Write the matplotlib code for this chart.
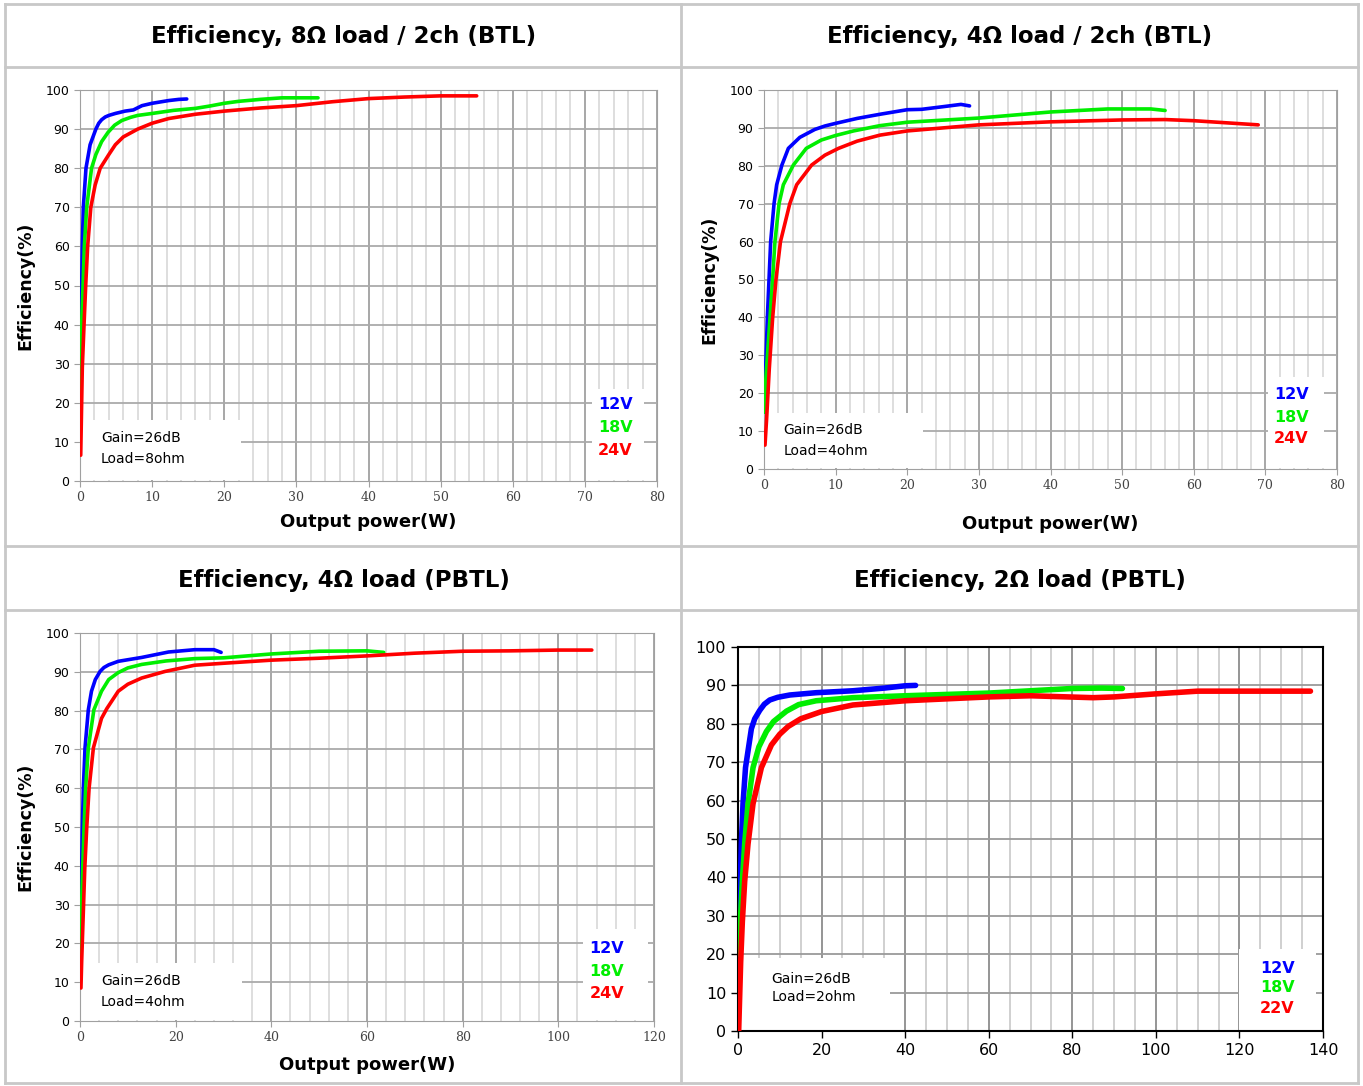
import matplotlib.pyplot as plt
from matplotlib.lines import Line2D
from matplotlib.patches import Rectangle
from matplotlib.ticker import MultipleLocator

# ---- data ----
titles = ["Efficiency, 8Ω load / 2ch (BTL)", "Efficiency, 4Ω load / 2ch (BTL)",
          "Efficiency, 4Ω load (PBTL)", "Efficiency, 2Ω load (PBTL)"]
loads = ["Load=8ohm", "Load=4ohm", "Load=4ohm", "Load=2ohm"]
volt_labels = [["12V", "18V", "24V"], ["12V", "18V", "24V"],
               ["12V", "18V", "24V"], ["12V", "18V", "22V"]]
xmax = [80, 80, 120, 140]

# panel 1: 8 ohm / 2ch
p1_12_x = [0.12, 0.23, 0.32, 0.46, 0.83, 1.4, 2.2, 2.6, 3.0, 3.5, 4.0, 4.9, 6.25, 7.4, 8.6, 10, 12.3, 13.7, 14.8]
p1_12_y = [30, 50, 60, 70, 80, 86, 90, 91.5, 92.4, 93.1, 93.5, 94.0, 94.6, 94.9, 96.0, 96.6, 97.3, 97.6, 97.7]
p1_18_x = [0.1, 0.14, 0.23, 0.42, 0.6, 0.93, 1.6, 2.2, 3.0, 3.9, 4.8, 5.8, 7, 8, 10, 13, 16, 18, 20, 22, 25, 28, 33]
p1_18_y = [20, 29, 40, 50, 60, 70, 80, 83.5, 86.8, 89.2, 91, 92.2, 93, 93.5, 94, 94.8, 95.3, 95.9, 96.6, 97.1,
           97.6, 98, 98]
p1_24_x = [0.1, 0.23, 0.32, 0.56, 0.79, 1.06, 1.5, 2.1, 2.8, 4.0, 4.9, 6, 8, 10, 12.3, 16, 20, 25,
           30, 35, 40, 45, 50, 55]
p1_24_y = [6.6, 20, 29, 40, 50, 60, 70, 75.7, 80, 83.5, 86, 88, 90, 91.5, 92.7, 93.8, 94.6, 95.4,
           96, 97, 97.8, 98.2, 98.5, 98.5]

# panel 2: 4 ohm / 2ch
p2_12_x = [0.1, 0.23, 0.47, 0.7, 0.93, 1.4, 1.77, 2.5, 3.4, 5, 7.1, 8.5, 10, 13, 16.2, 20, 22, 25, 27.5, 28.7]
p2_12_y = [15, 26.5, 40, 50, 60, 70, 75, 80.2, 84.6, 87.5, 89.6, 90.5, 91.2, 92.5, 93.6, 94.8, 94.9, 95.6,
           96.2, 95.8]
p2_18_x = [0.05, 0.19, 0.84, 1.2, 1.53, 2.1, 2.7, 4.1, 5.9, 8, 10, 12.5, 16.2, 20, 30, 40, 48, 54, 56]
p2_18_y = [15, 22, 40, 50, 60, 70, 75, 80.2, 84.6, 86.8, 88, 89.2, 90.6, 91.5, 92.6, 94.2, 95, 95, 94.6]
p2_24_x = [0.14, 0.37, 0.74, 1.2, 1.67, 2.3, 3.6, 4.56, 6.65, 8.5, 10.4, 13, 16.2, 20, 30, 40, 50, 56, 60, 69]
p2_24_y = [6.3, 13.4, 26.5, 39.7, 50, 60, 70, 75, 80.2, 82.8, 84.6, 86.5, 88.1, 89.2, 90.8, 91.6, 92.1,
           92.2, 91.9, 90.8]

# panel 3: 4 ohm PBTL
p3_12_x = [0.1, 0.35, 0.49, 0.7, 1.05, 1.74, 2.4, 3.2, 4.2, 5, 6, 8, 12.9, 18.5, 24, 28, 29.5]
p3_12_y = [20, 39.4, 49.7, 60, 70.4, 80.2, 85, 88, 90.1, 91.1, 91.8, 92.7, 93.7, 95.1, 95.7, 95.7, 95]
p3_18_x = [0.1, 0.2, 0.56, 0.84, 1.18, 1.74, 2.9, 4.5, 6, 8, 10, 12.9, 18, 24, 30, 40, 50, 60, 63.5]
p3_18_y = [15, 24, 39.4, 49.7, 60, 70.4, 80.2, 85, 88, 89.8, 91, 91.9, 92.8, 93.4, 93.6, 94.6, 95.3, 95.4, 95]
p3_24_x = [0.2, 0.35, 0.7, 1.0, 1.4, 1.9, 2.8, 4.5, 5.6, 8, 10, 12.9, 17.8, 24, 30, 40, 50, 60, 70,
           80, 90, 100, 107]
p3_24_y = [8.5, 15.4, 28.3, 39.4, 49.7, 60, 70.4, 78, 80.5, 85, 86.8, 88.4, 90.1, 91.7, 92.2, 93, 93.5,
           94.1, 94.8, 95.3, 95.4, 95.6, 95.6]

# panel 4: 2 ohm PBTL
p4_12_x = [0.2, 0.56, 0.8, 1.2, 1.8, 3.2, 4, 5.2, 6.3, 7.6, 9.5, 12.4, 18.7, 27.5, 35, 40, 42.5]
p4_12_y = [20, 39, 48.7, 59.2, 68.6, 78.7, 81.3, 83.5, 85.1, 86.2, 86.9, 87.5, 88.1, 88.6, 89.3, 89.9, 90]
p4_18_x = [0.3, 0.56, 1.04, 1.6, 2.4, 3.6, 5, 6.8, 8.5, 11.6, 14.5, 18.7, 27.5, 40, 60, 80, 87, 92]
p4_18_y = [20, 28.5, 39, 48.7, 59.2, 68.6, 74, 78, 80.6, 83.3, 85, 86, 86.8, 87.3, 88, 89.2, 89.3, 89.2]
p4_22_x = [0.16, 0.64, 1.04, 1.6, 2.4, 3.6, 5.6, 8, 10, 12, 15, 20, 27.5, 40, 60, 70, 85, 90, 100, 110, 137]
p4_22_y = [0, 18, 28.5, 39, 48.7, 59.2, 68.6, 74.5, 77.3, 79.3, 81.3, 83.2, 84.9, 86, 87, 87.3, 86.8, 87,
           87.8, 88.5, 88.5]

series = [
    [(p1_12_x, p1_12_y), (p1_18_x, p1_18_y), (p1_24_x, p1_24_y)],
    [(p2_12_x, p2_12_y), (p2_18_x, p2_18_y), (p2_24_x, p2_24_y)],
    [(p3_12_x, p3_12_y), (p3_18_x, p3_18_y), (p3_24_x, p3_24_y)],
    [(p4_12_x, p4_12_y), (p4_18_x, p4_18_y), (p4_22_x, p4_22_y)],
]
colors = ["#0000ff", "#00ee00", "#ff0000"]

W, H = 1363, 1086
fig = plt.figure(figsize=(W / 100, H / 100), dpi=100)

def fx(px):
    return px / W

def fy(py):
    return 1 - py / H

# table frame
frame_c = "#c8c8c8"
for x0, y0, x1, y1 in [(5, 4, 1358, 4), (5, 1083, 1358, 1083), (5, 4, 5, 1083),
                       (1358, 4, 1358, 1083), (681, 4, 681, 1083), (5, 546, 1358, 546),
                       (5, 67, 1358, 67), (5, 610, 1358, 610)]:
    fig.add_artist(Line2D([fx(x0), fx(x1)], [fy(y0), fy(y1)], color=frame_c, lw=2))

title_pos = [(344, 37), (1020, 37), (344, 580), (1020, 580)]
for t, (tx, ty) in zip(titles, title_pos):
    fig.text(fx(tx), fy(ty), t, ha="center", va="center", fontsize=16.5, fontweight="bold")

# axes rectangles in pixels: left, right, top(100%), bottom(0%)
rects = [(80, 657, 90, 481), (764, 1337, 90, 469), (80, 654, 633, 1021), (738, 1323, 647, 1031)]
minor_step = [2, 2, 4, 5]
major_step = [10, 10, 20, 20]
xlabel_pad = [6, 16, 8, 0]

# annotation boxes in data units: gain box (x1, y1), text x, y's; volt box (x0, x1, y1), text x, y's
gain_box = [(22.3, 15.6, 2.9, 11, 5.7), (22.2, 14.9, 2.7, 10.3, 4.8),
            (33.8, 14.9, 4.4, 10.4, 5.0), (36.4, 18.9, 8.0, 13.6, 8.9)]
volt_box = [(71, 78.2, 23.5, 71.8, [19.5, 13.8, 7.9]),
            (70.4, 78.2, 24.3, 71.2, [19.7, 13.6, 8.1]),
            (105.2, 118.8, 23.6, 106.5, [18.8, 12.7, 7.1]),
            (120, 138.4, 21.4, 124.9, [16.4, 11.2, 5.8])]

for i in range(4):
    l, r, t, b = rects[i]
    ax = fig.add_axes([fx(l), fy(b), fx(r) - fx(l), fy(t) - fy(b)])
    ax.set_xlim(0, xmax[i])
    ax.set_ylim(0, 100)
    last = i == 3
    # grid
    k = 0
    while k <= xmax[i]:
        if k % major_step[i] == 0:
            ax.axvline(k, color="#8c8c8c" if last else "#a0a0a0", lw=1.3, zorder=1)
        else:
            ax.axvline(k, color="#c4c4c4" if last else "#d4d4d4", lw=1.1, zorder=1)
        k += minor_step[i]
    for yv in range(10, 100, 10):
        ax.axhline(yv, color="#9a9a9a" if last else "#aaaaaa", lw=1.3, zorder=1)
    ax.xaxis.set_major_locator(MultipleLocator(major_step[i]))
    ax.yaxis.set_major_locator(MultipleLocator(10))

    # white boxes
    gx1, gy1, gtx, gty1, gty2 = gain_box[i]
    ax.add_patch(Rectangle((0.3, 0.3), gx1 - 0.3, gy1 - 0.3, facecolor="white", edgecolor="none", zorder=2))
    vx0, vx1, vy1, vtx, vtys = volt_box[i]
    ax.add_patch(Rectangle((vx0, 0.3), vx1 - vx0, vy1 - 0.3, facecolor="white", edgecolor="none", zorder=2))
    ax.text(gtx, gty1, "Gain=26dB", fontsize=10, va="center", zorder=3)
    ax.text(gtx, gty2, loads[i], fontsize=10, va="center", zorder=3)
    for lab, c, yy in zip(volt_labels[i], colors, vtys):
        ax.text(vtx, yy, lab, color=c, fontsize=11.5, fontweight="bold", va="center", zorder=3)

    for (xs, ys), c in zip(series[i], colors):
        ax.plot(xs, ys, color=c, lw=4 if last else 2.6, solid_capstyle="round",
                solid_joinstyle="round", zorder=4)

    if last:
        for s in ax.spines.values():
            s.set_color("black")
            s.set_linewidth(1.5)
        ax.tick_params(direction="out", length=5, width=1, colors="black", labelsize=11.5)
    else:
        for s in ax.spines.values():
            s.set_color("#a0a0a0")
        ax.tick_params(direction="out", length=4, color="#a0a0a0", labelsize=9)
        for lb in ax.get_xticklabels():
            lb.set_fontfamily("DejaVu Serif")
            lb.set_color("#444444")
            lb.set_fontsize(9)
        ax.set_ylabel("Efficiency(%)", fontsize=12.5, fontweight="bold", labelpad=8)
        ax.set_xlabel("Output power(W)", fontsize=13, fontweight="bold", labelpad=xlabel_pad[i])

fig.savefig("out.png", dpi=100, facecolor="white")
